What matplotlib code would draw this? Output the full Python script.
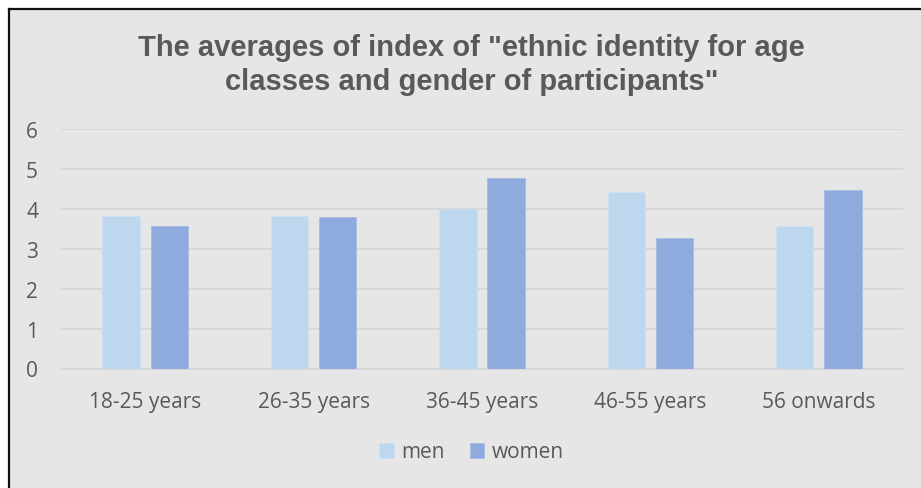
import matplotlib.pyplot as plt
from matplotlib.patches import Rectangle
import numpy as np

categories = ["18-25 years", "26-35 years", "36-45 years", "46-55 years", "56 onwards"]
men = [3.83, 3.83, 4.00, 4.43, 3.57]
women = [3.57, 3.79, 4.78, 3.28, 4.48]
yticks = [0, 1, 2, 3, 4, 5, 6]

bg = "#e6e6e6"
text_col = "#595959"
label_font = "Open Sans"

fig = plt.figure(figsize=(9.21, 4.89), dpi=100)
fig.patch.set_facecolor("white")

# grey chart area with a dark border on the left and top
fig.patches.append(Rectangle((9 / 921, 0), 1, 1 - 10 / 489, transform=fig.transFigure,
                             facecolor=bg, edgecolor="none", zorder=-5))
fig.add_artist(plt.Line2D([9 / 921, 9 / 921], [0, 1 - 9.5 / 489], color="#111111", lw=1.6,
                          transform=fig.transFigure))
fig.add_artist(plt.Line2D([9 / 921, 1], [1 - 9.5 / 489, 1 - 9.5 / 489], color="#111111", lw=1.6,
                          transform=fig.transFigure))

ax = fig.add_axes([61 / 921, 119.5 / 489, 842 / 921, 239.5 / 489], zorder=2)
ax.set_facecolor("none")

x = np.arange(len(categories))
w = 0.223
off = 0.143
ax.bar(x - off, men, w, color="#bdd7ee", edgecolor="#cfe0f0", linewidth=0.6, label="men", zorder=3)
ax.bar(x + off, women, w, color="#8faadc", edgecolor="#a8bce2", linewidth=0.6, label="women", zorder=3)

ax.set_xlim(-0.5, len(categories) - 0.5)
ax.set_ylim(0, 6)
ax.set_yticks(yticks)
ax.yaxis.grid(True, color="#d6d6d6", linewidth=1.3, zorder=0)
ax.set_axisbelow(True)
for s in ["top", "right", "left"]:
    ax.spines[s].set_visible(False)
ax.spines["bottom"].set_color("#d6d6d6")
ax.spines["bottom"].set_linewidth(1.3)
ax.tick_params(length=0)
ax.set_xticks(x)
ax.set_xticklabels(categories)
for lab in ax.get_xticklabels() + ax.get_yticklabels():
    lab.set_fontfamily(label_font)
    lab.set_fontsize(15)
    lab.set_color(text_col)
ax.tick_params(axis="y", pad=16.5)
ax.tick_params(axis="x", pad=16)

fig.text(0.512, 1 - 65 / 489,
         "The averages of index of \"ethnic identity for age\nclasses and gender of participants\"",
         ha="center", va="center", fontsize=21, fontweight="bold", color=text_col,
         family="Liberation Sans", linespacing=1.3)

leg = fig.legend(loc="center", bbox_to_anchor=(0.512, 1 - 453 / 489), ncol=2, frameon=False,
                 handlelength=0.7, handleheight=0.7, handletextpad=0.35, columnspacing=1.2,
                 prop={"family": label_font, "size": 15})
for t in leg.get_texts():
    t.set_color(text_col)

fig.savefig("out.png", dpi=100)
